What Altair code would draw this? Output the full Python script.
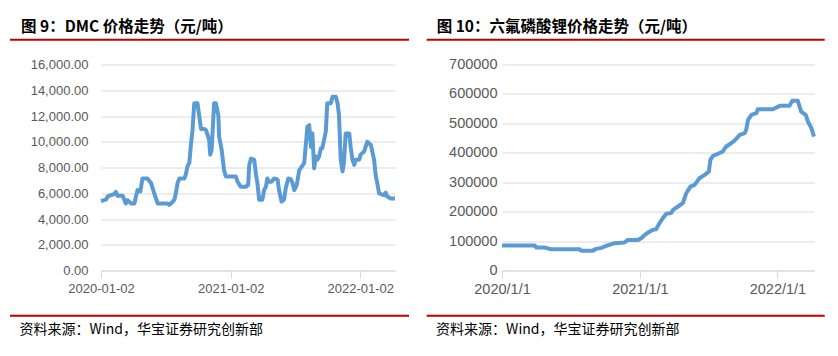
import altair as alt
import pandas as pd

# ---------------- data ----------------
dmc_dates = ["2020-01-02","2020-01-16","2020-01-21","2020-02-09","2020-02-13","2020-02-18","2020-03-03","2020-03-12","2020-03-17","2020-03-27",
             "2020-04-05","2020-04-10","2020-04-14","2020-04-22","2020-04-28","2020-05-12","2020-05-22","2020-05-31","2020-06-10","2020-06-19",
             "2020-07-08","2020-07-12","2020-07-17","2020-07-27","2020-07-31","2020-08-05","2020-08-10","2020-08-24","2020-08-28","2020-09-02",
             "2020-09-07","2020-09-12","2020-09-16","2020-09-21","2020-09-30","2020-10-05","2020-10-10","2020-10-19","2020-10-24","2020-11-02",
             "2020-11-05","2020-11-09","2020-11-16","2020-11-21","2020-11-28","2020-11-30","2020-12-07","2020-12-14","2020-12-19","2021-01-02",
             "2021-01-16","2021-01-21","2021-01-30","2021-02-13","2021-02-20","2021-02-23","2021-02-28","2021-03-09","2021-03-14","2021-03-18",
             "2021-03-23","2021-04-01","2021-04-06","2021-04-11","2021-04-15","2021-04-20","2021-04-27","2021-05-04","2021-05-14","2021-05-18",
             "2021-05-25","2021-06-01","2021-06-06","2021-06-13","2021-06-20","2021-06-25","2021-06-30","2021-07-07","2021-07-14","2021-07-18",
             "2021-07-28","2021-08-01","2021-08-06","2021-08-11","2021-08-16","2021-08-20","2021-08-25","2021-08-30","2021-09-03","2021-09-08",
             "2021-09-13","2021-09-17","2021-09-22","2021-09-27","2021-10-01","2021-10-11","2021-10-16","2021-10-25","2021-10-30","2021-11-03",
             "2021-11-08","2021-11-13","2021-11-17","2021-11-22","2021-12-02","2021-12-06","2021-12-11","2021-12-16","2021-12-20","2021-12-30",
             "2022-01-03","2022-01-13","2022-01-22","2022-02-01","2022-02-05","2022-02-10","2022-02-15","2022-02-19","2022-02-24","2022-03-05",
             "2022-03-10","2022-03-15","2022-03-19","2022-03-29","2022-04-10"]
dmc_values = [5400,5500,5750,5950,6100,5800,5800,5200,5450,5200,
              5200,5800,6250,6150,7150,7150,6800,6000,5200,5200,
              5200,5100,5200,5500,6000,6800,7150,7150,7450,8100,
              8350,9900,10900,13000,13000,12000,11000,11000,10900,10150,
              9000,9400,13000,13000,12000,10400,9400,7800,7300,7300,
              7300,6900,6500,6500,6650,8200,8700,8600,7450,6800,
              5500,5500,6250,6500,7150,6900,6900,7150,7050,6250,
              5350,5500,6400,7150,7100,6800,6250,6650,7800,7950,
              8350,9600,11150,11300,9600,10650,7950,8850,8600,8850,
              9500,9500,10150,10800,13000,13000,13500,13500,13000,12100,
              8600,7700,8350,10650,10650,9600,8600,8200,8600,8600,
              9000,9250,10000,9750,9250,8600,7300,6800,6000,5900,
              5850,6050,5750,5600,5600]

lipf6_dates = ["2020-01-01","2020-03-28","2020-04-01","2020-04-23","2020-05-11","2020-07-25","2020-07-29","2020-08-29","2020-09-07","2020-09-21",
               "2020-10-04","2020-10-26","2020-11-21","2020-11-30","2020-12-27","2021-01-05","2021-01-14","2021-01-27","2021-02-05","2021-02-13",
               "2021-02-22","2021-03-03","2021-03-12","2021-03-25","2021-03-30","2021-04-12","2021-04-25","2021-05-04","2021-05-15","2021-05-26",
               "2021-06-08","2021-06-22","2021-07-03","2021-07-07","2021-07-14","2021-07-27","2021-08-09","2021-08-18","2021-08-31","2021-09-09",
               "2021-09-23","2021-10-06","2021-10-10","2021-10-15","2021-10-24","2021-11-06","2021-11-10","2021-12-20","2022-01-07","2022-02-02",
               "2022-02-09","2022-02-24","2022-03-05","2022-03-17","2022-03-23","2022-04-01","2022-04-08"]
lipf6_values = [85000,85000,78000,78000,72000,72000,67500,67500,73500,77000,
                84000,93000,95000,104000,104000,110000,121000,132500,138000,140000,
                161000,178000,192500,195000,206000,217500,229000,262500,285000,291000,
                313500,325000,336500,376000,389500,396500,404500,421500,432500,441500,
                461000,466500,478000,512000,529000,534500,548000,548000,559500,559500,
                576500,576500,540000,529000,506000,483500,455000]

assert len(dmc_dates) == len(dmc_values)
assert len(lipf6_dates) == len(lipf6_values)

left_title = "图 9：DMC 价格走势（元/吨）"
right_title = "图 10：六氟磷酸锂价格走势（元/吨）"
source_text = "资料来源：Wind，华宝证券研究创新部"

dmc_y_ticks = list(range(0, 16001, 2000))
lipf6_y_ticks = list(range(0, 700001, 100000))
dmc_x_ticks = ["2020-01-02", "2021-01-02", "2022-01-02"]
dmc_x_domain = ["2020-01-02", "2022-04-10"]
lipf6_x_ticks = ["2020-01-01", "2021-01-01", "2022-01-01"]
lipf6_x_domain = ["2020-01-01", "2022-04-08"]

# ---------------- style ----------------
BLUE = "#5B9BD5"
RED = "#C00000"
GRID = "#D9D9D9"
LABEL = "#595959"
NUM_FONT = "Liberation Sans"
CJK_FONT = "Noto Sans CJK SC"


def dt(s):
    y, m, d = (int(v) for v in s.split("-"))
    return alt.DateTime(year=y, month=m, date=d, utc=True)


def panel(dates, values, x_ticks, x_domain, x_fmt, y_ticks, y_fmt, y_max,
          lab_size, y_pad, title, w, h, title_x, rule_x1, rule_x2, foot_x):
    df = pd.DataFrame({"date": dates, "value": values})
    one = pd.DataFrame({"k": [0]})
    line = alt.Chart(df).mark_line(color=BLUE, strokeWidth=4, strokeJoin="round").encode(
        x=alt.X("date:T",
                scale=alt.Scale(type="utc", domain=[dt(s) for s in x_domain]),
                axis=alt.Axis(values=[dt(s) for s in x_ticks], format=x_fmt, grid=False,
                              domainColor=GRID, tickColor=GRID, tickSize=7, labelPadding=5,
                              labelFont=NUM_FONT, labelFontSize=lab_size, labelColor=LABEL,
                              labelFlush=False, labelOverlap=False, title=None)),
        y=alt.Y("value:Q",
                scale=alt.Scale(domain=[0, y_max], nice=False),
                axis=alt.Axis(values=y_ticks, format=y_fmt, domain=False, ticks=False,
                              gridColor=GRID, gridWidth=1, labelPadding=y_pad,
                              labelFont=NUM_FONT, labelFontSize=lab_size, labelColor=LABEL,
                              title=None)),
    )
    ttl = alt.Chart(one).mark_text(align="left", baseline="middle", font=CJK_FONT,
                                   fontSize=15.5, fontWeight="bold", color="#000000").encode(
        x=alt.value(title_x), y=alt.value(-38), text=alt.value(title))
    top_rule = alt.Chart(one).mark_rule(color=RED, strokeWidth=2).encode(
        x=alt.value(rule_x1), x2=alt.value(rule_x2), y=alt.value(-24.7))
    bot_rule = alt.Chart(one).mark_rule(color=RED, strokeWidth=2).encode(
        x=alt.value(rule_x1), x2=alt.value(rule_x2), y=alt.value(251.3))
    foot = alt.Chart(one).mark_text(align="left", baseline="middle", font=CJK_FONT,
                                    fontSize=14, color="#000000").encode(
        x=alt.value(foot_x), y=alt.value(265.5), text=alt.value(source_text))
    return alt.layer(line, ttl, top_rule, bot_rule, foot).properties(width=w, height=h)


left = panel(dmc_dates, dmc_values, dmc_x_ticks, dmc_x_domain, "%Y-%m-%d",
             dmc_y_ticks, ",.2f", 16000, 13, 13, left_title, 294, 206,
             -80, -91, 308, -81.4)
right = panel(lipf6_dates, lipf6_values, lipf6_x_ticks, lipf6_x_domain, "%Y/%-m/%-d",
              lipf6_y_ticks, "d", 700000, 14.5, 5, right_title, 312, 206,
              -65.3, -75.3, 322.7, -65.9)

chart = alt.hconcat(left, right, spacing=15).properties(
    padding={"left": 1, "top": 11.5, "right": 0, "bottom": 0},
    background="#FFFFFF",
).configure_view(strokeWidth=0)

chart.save("out.html", embed_options={"renderer": "svg", "actions": False})
